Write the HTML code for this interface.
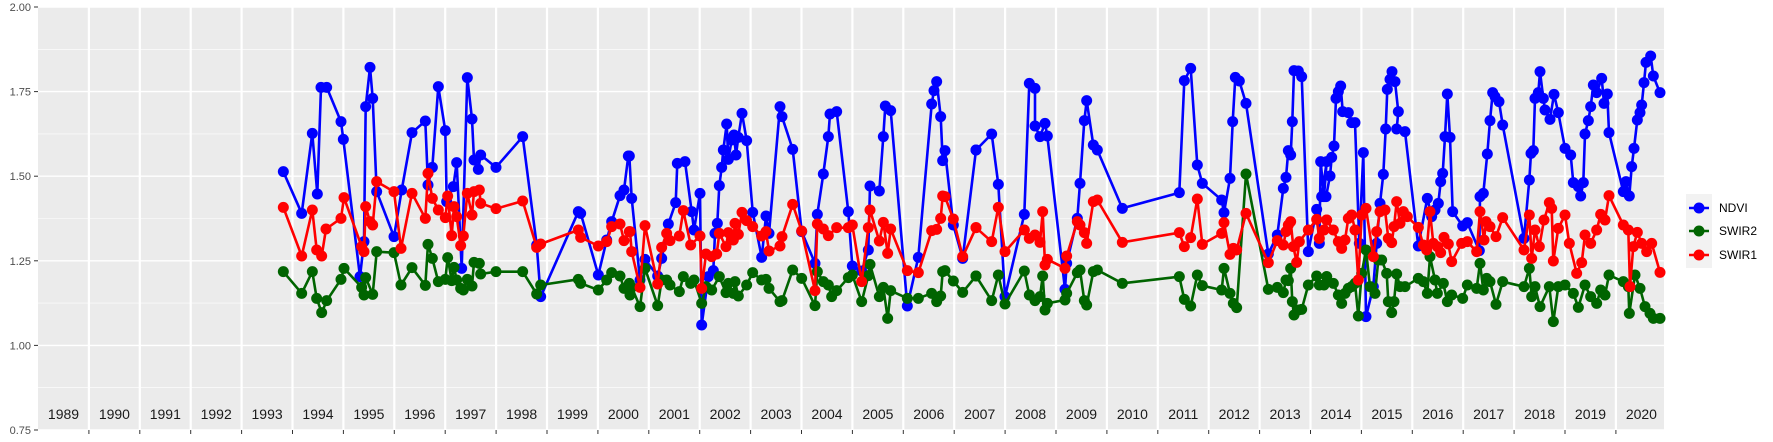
<!DOCTYPE html>
<html><head><meta charset="utf-8"><style>
html,body{margin:0;padding:0;background:#fff;}
svg{display:block;font-family:"Liberation Sans",sans-serif;}
</style></head><body>
<svg id="c" width="1773" height="442" xmlns="http://www.w3.org/2000/svg">
<rect x="38" y="7" width="1626" height="423" fill="#ebebeb"/>
<g id="grid"></g>
<g id="data"></g>
<g id="axes" font-size="11" fill="#4d4d4d"></g>
<g font-size="12">
<rect x="1686" y="194" width="26" height="74" fill="#f2f2f2"/>
<line x1="1689" y1="208" x2="1709" y2="208" stroke="#0000ff" stroke-width="2.5"/><circle cx="1699" cy="208" r="5.5" fill="#0000ff"/>
<line x1="1689" y1="231" x2="1709" y2="231" stroke="#006400" stroke-width="2.5"/><circle cx="1699" cy="231" r="5.5" fill="#006400"/>
<line x1="1689" y1="255" x2="1709" y2="255" stroke="#ff0000" stroke-width="2.5"/><circle cx="1699" cy="255" r="5.5" fill="#ff0000"/>
<text x="1719" y="212">NDVI</text><text x="1719" y="235">SWIR2</text><text x="1719" y="259">SWIR1</text>
</g>
</svg>
<script>
const NS="http://www.w3.org/2000/svg";
function el(p,t,a,txt){const e=document.createElementNS(NS,t);for(const k in a)e.setAttribute(k,a[k]);if(txt!==undefined)e.textContent=txt;p.appendChild(e);return e;}
const grid=document.getElementById('grid'),ax=document.getElementById('axes'),dg=document.getElementById('data');
const yv=v=>7+(2-v)*338.4;
for(let v=0.875;v<2;v+=0.25)el(grid,'line',{x1:38,x2:1664,y1:yv(v),y2:yv(v),stroke:'#fff','stroke-width':0.6});
[0.75,1,1.25,1.5,1.75,2].forEach(v=>{el(grid,'line',{x1:38,x2:1664,y1:yv(v),y2:yv(v),stroke:'#fff','stroke-width':1.4});
el(ax,'text',{x:31,y:yv(v)+4,'text-anchor':'end'},v.toFixed(2));el(ax,'line',{x1:34,x2:38,y1:yv(v),y2:yv(v),stroke:'#333'});});
for(let i=0;i<32;i++){const x0=38+i*50.9;if(i>0){el(grid,'line',{x1:x0,x2:x0,y1:7,y2:430,stroke:'#fff','stroke-width':2.2});el(ax,'line',{x1:x0,x2:x0,y1:430,y2:434,stroke:'#333'});}
el(ax,'text',{x:x0+25.5,y:419,'text-anchor':'middle',fill:'#1a1a1a','font-size':14},1989+i);}
const Z=[[270,50],[620,50],[970,50],[1320,30]];
const N=[
[[40,365],[95,490],[127,250],[142,432],[153,112],[170,112],[213,215],[220,268],[270,680],[282,575],[287,170],[300,52],[308,145],[320,425],[372,560],[395,420],[426,248],[466,213],[474,405],[487,352],[505,110],[526,242],[530,455],[550,410],[560,338],[575,655],[592,83],[606,207],[612,330],[625,358],[632,315],[678,352],[758,260],[800,585],[812,740],[925,485],[932,490],[985,675],[1010,570],[1025,515],[1050,437],[1062,420],[1075,318]],
[[28,318],[35,445],[60,690],[75,628],[113,678],[125,625],[145,522],[167,458],[172,340],[195,335],[215,485],[222,540],[240,430],[245,825],[265,680],[280,662],[285,550],[292,520],[298,407],[305,352],[310,300],[320,222],[325,328],[335,270],[342,255],[348,315],[355,262],[366,190],[380,272],[398,487],[425,622],[438,498],[447,550],[480,170],[486,200],[518,298],[545,545],[585,640],[592,493],[610,372],[625,260],[630,192],[650,185],[685,485],[697,648],[725,663],[745,600],[750,408],[778,423],[790,260],[796,168],[812,182],[862,768],[895,622],[935,162],[942,122],[950,95],[962,200],[968,332],[975,302],[1000,525],[1028,625],[1068,300]],
[[18,300],[65,252],[85,403],[105,740],[163,493],[178,100],[195,115],[195,228],[210,260],[225,220],[232,258],[285,718],[290,640],[322,505],[330,400],[343,212],[350,152],[370,285],[382,300],[457,475],[628,428],[643,92],[662,55],[682,345],[697,400],[755,450],[762,488],[780,385],[788,215],[796,82],[808,93],[828,160],[895,612],[922,555],[940,415],[948,382],[955,302],[962,315],[967,215],[972,62],[985,63],[995,80],[1015,605],[1040,478],[1048,580],[1052,335],[1062,440],[1070,335]],
[[5,500],[18,500],[30,438],[35,382],[42,348],[48,205],[55,185],[62,168],[68,245],[85,248],[95,278],[105,278],[118,640],[130,368],[138,860],[160,770],[170,640],[180,520],[190,433],[197,297],[202,178],[210,148],[216,125],[225,155],[235,245],[230,297],[255,305],[295,648],[322,505],[335,560],[345,540],[355,520],[362,455],[368,430],[375,320],[382,192],[390,322],[398,545],[428,588],[442,578],[478,662],[480,500],[490,490],[502,372],[510,272],[518,188],[525,200],[537,215],[548,285],[612,625],[628,450],[633,370],[640,362],[645,205],[655,188],[660,125],[670,205],[675,240],[690,268],[702,193],[715,248],[735,355],[752,375],[760,458],[775,470],[782,498],[790,458],[795,312],[805,272],[812,230],[820,165],[830,188],[845,145],[852,220],[862,192],[867,308],[910,485],[918,455],[928,498],[935,410],[942,355],[952,270],[960,248],[965,225],[972,158],[978,97],[992,78],[1000,138],[1020,188]]];
const S1=[
[[40,472],[95,618],[127,480],[140,600],[155,618],[168,537],[213,505],[222,443],[275,590],[282,605],[287,470],[300,515],[308,525],[320,395],[372,425],[393,595],[426,430],[466,505],[474,370],[487,445],[505,480],[526,503],[533,438],[545,557],[552,470],[560,500],[572,587],[580,558],[592,430],[606,495],[612,425],[628,420],[632,460],[678,476],[758,453],[800,592],[812,582],[925,540],[932,562],[985,588],[1010,575],[1025,530],[1050,522],[1062,572],[1078,545]],
[[30,545],[35,605],[60,712],[75,527],[113,702],[125,592],[140,550],[150,572],[178,558],[190,482],[212,585],[240,558],[245,715],[258,612],[275,620],[290,612],[298,550],[318,590],[325,548],[340,570],[345,520],[355,553],[366,487],[380,512],[398,530],[425,558],[438,545],[447,603],[480,588],[486,560],[518,463],[545,543],[585,722],[592,522],[610,537],[625,557],[650,533],[685,533],[697,525],[725,695],[745,533],[750,480],[778,573],[790,517],[803,610],[812,537],[862,662],[895,668],[935,542],[950,538],[962,505],[968,438],[975,440],[1000,507],[1028,620],[1068,533]],
[[18,533],[65,575],[85,472],[105,605],[163,540],[178,565],[195,555],[210,577],[218,485],[225,645],[232,628],[285,655],[290,618],[322,515],[330,525],[343,548],[350,580],[370,455],[382,450],[457,577],[628,548],[643,590],[662,563],[682,447],[697,583],[755,550],[762,518],[780,613],[790,595],[800,600],[828,490],[895,638],[922,572],[940,585],[948,545],[955,525],[962,515],[970,590],[980,637],[988,575],[1015,540],[1040,508],[1048,565],[1062,540],[1070,510]],
[[20,570],[40,600],[55,635],[65,655],[75,630],[85,565],[95,555],[105,600],[115,750],[125,555],[138,535],[160,680],[170,605],[180,545],[195,540],[205,625],[215,638],[222,590],[230,515],[240,580],[250,545],[262,560],[295,592],[310,645],[320,660],[330,545],[340,640],[352,650],[362,668],[372,622],[385,642],[395,695],[425,640],[442,635],[470,665],[480,545],[492,630],[498,575],[510,590],[528,620],[548,563],[612,660],[628,555],[635,685],[645,600],[658,650],[672,570],[688,518],[695,535],[700,693],[715,595],[735,555],[748,640],[770,730],[785,698],[795,615],[812,640],[830,600],[842,553],[855,570],[867,497],[910,585],[925,600],[930,770],[940,650],[952,607],[965,640],[980,665],[995,640],[1020,727]]];
const S2=[
[[40,665],[95,730],[127,665],[140,745],[155,788],[170,752],[213,688],[222,655],[275,712],[282,735],[287,683],[308,733],[320,605],[372,608],[393,705],[426,653],[466,706],[474,583],[487,625],[505,695],[526,688],[533,623],[545,692],[552,652],[560,690],[572,715],[580,720],[592,688],[606,708],[612,637],[628,640],[632,672],[678,665],[758,665],[800,732],[812,705],[925,688],[932,700],[985,720],[1010,690],[1025,668],[1050,678],[1062,715],[1078,700]],
[[30,735],[35,712],[60,770],[75,655],[113,767],[125,690],[140,690],[150,705],[178,725],[190,680],[212,700],[222,690],[245,760],[258,710],[275,720],[298,680],[318,728],[325,700],[340,730],[345,695],[355,738],[380,705],[398,668],[425,690],[438,688],[447,715],[480,755],[486,752],[518,660],[545,685],[585,767],[592,665],[610,695],[625,705],[635,740],[650,722],[685,683],[697,675],[725,755],[745,677],[750,643],[778,740],[790,712],[803,805],[812,722],[862,745],[895,745],[935,730],[950,755],[962,738],[968,665],[975,662],[1000,693],[1028,727],[1068,678]],
[[18,678],[65,752],[85,675],[105,762],[163,663],[178,735],[195,752],[210,740],[218,678],[225,780],[232,760],[285,750],[290,730],[322,668],[330,660],[343,752],[350,765],[370,665],[382,660],[457,700],[628,680],[643,748],[662,768],[682,675],[697,707],[755,720],[762,655],[780,730],[790,760],[800,773],[828,372],[895,718],[922,712],[940,728],[948,690],[955,692],[962,655],[967,755],[972,795],[985,780],[995,778],[1015,705],[1040,678],[1048,705],[1062,705],[1070,680]],
[[20,740],[40,760],[55,795],[65,820],[75,790],[85,775],[95,770],[105,760],[115,858],[125,730],[138,660],[150,770],[165,790],[175,690],[185,690],[200,730],[205,815],[215,848],[222,815],[230,732],[240,770],[255,770],[295,745],[310,755],[322,790],[330,680],[345,750],[352,790],[370,760],[382,815],[395,795],[428,805],[442,765],[470,775],[480,700],[490,780],[500,745],[510,755],[528,823],[548,755],[612,770],[628,715],[635,800],[645,770],[660,830],[688,770],[700,875],[715,770],[735,765],[760,790],[775,832],[795,765],[812,800],[830,820],[842,780],[855,795],[867,735],[910,755],[925,770],[928,850],[945,735],[960,775],[975,830],[990,850],[1000,865],[1020,865]]];
function conv(L){const o=[];L.forEach((seg,i)=>seg.forEach(([a,b])=>o.push([Z[i][0]+a/3,Z[i][1]+b/3])));return o;}
function series(L,c){const P=conv(L);el(dg,'polyline',{points:P.map(p=>p[0].toFixed(1)+','+p[1].toFixed(1)).join(' '),fill:'none',stroke:c,'stroke-width':2.6,'stroke-linejoin':'round'});
P.forEach(([x,y])=>el(dg,'circle',{cx:x,cy:y,r:5.5,fill:c}));}
series(N,'#0000ff');series(S2,'#006400');series(S1,'#ff0000');
</script>
</body></html>
